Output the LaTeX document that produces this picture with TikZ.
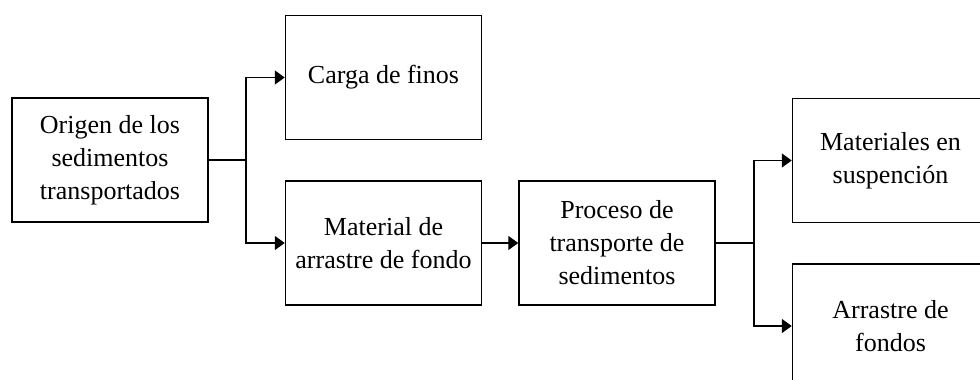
\documentclass[tikz,border=0pt]{standalone}
\usepackage{fontspec}
\setmainfont{Liberation Serif}
\usetikzlibrary{arrows.meta, positioning}

\begin{document}
\begin{tikzpicture}[
	node distance=40pt and 76pt,
	box/.style = {draw, line width=1.5pt, minimum width=196pt, minimum height=124pt,
		align=center, inner sep=0pt, font=\fontsize{26pt}{33pt}\selectfont},
	arr/.style = {line width=1.5pt, -{Triangle[length=10pt, width=14pt]}}
     ]
		\useasboundingbox (0,0) rectangle (980pt,-380pt);
		\node (origen) at (110pt,-160pt) [box] {Origen de los\\ sedimentos\\ transportados};
		\node (finos) [box, right=of origen, yshift=82.5pt] {Carga de finos};
		\node (arrastre) [box, below=of finos] {Material de\\ arrastre de fondo};
		\node (proceso) [box, right=36pt of arrastre] {Proceso de\\ transporte de\\ sedimentos};
		\node (suspension) [box, right=of proceso, yshift=82.5pt] {Materiales en\\ suspención};
		\node (fondos) [box, below=of suspension] {Arrastre de\\ fondos};
%
		\coordinate[right=37pt of origen.east] (j1);
		\draw[line width=1.5pt] (origen.east) -- (j1);
		\draw[arr] (j1) |- (finos.west);
		\draw[arr] (j1) |- (arrastre.west);
%
		\draw[arr] (arrastre.east) -- (proceso.west);
%
		\coordinate[right=38pt of proceso.east] (j2);
		\draw[line width=1.5pt] (proceso.east) -- (j2);
		\draw[arr] (j2) |- (suspension.west);
		\draw[arr] (j2) |- (fondos.west);
\end{tikzpicture}
\end{document}
